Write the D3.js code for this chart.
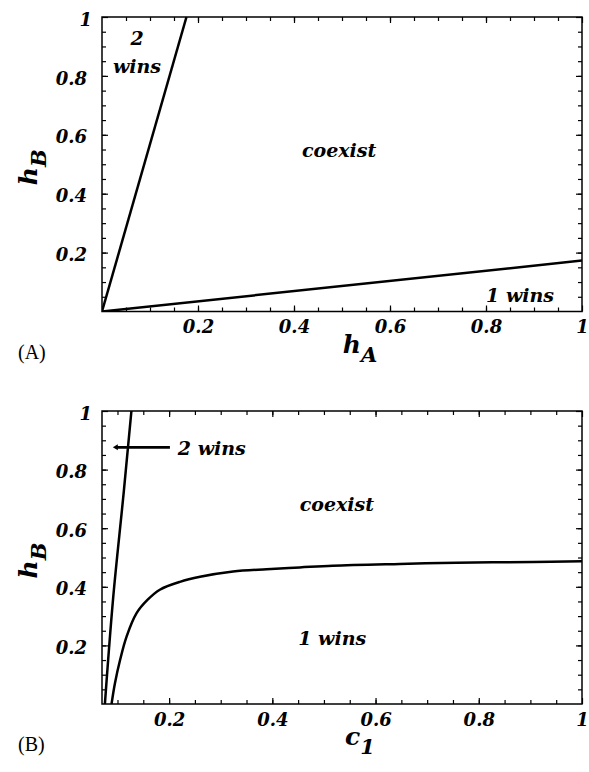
<!DOCTYPE html>
<html lang="en">
<head>
<meta charset="utf-8">
<title>Competition regions</title>
<style>
  body { margin: 0; background: #fff; }
  .frame { fill: none; stroke: #000; stroke-width: 1.5px; }
  .tick line { stroke: #000; stroke-width: 1.2px; }
  .domain { display: none; }
  .tick text, .lab { font-family: 'DejaVu Serif', serif; font-weight: bold; font-style: italic; fill: #000; }
  .curve { fill: none; stroke: #000; stroke-width: 2.5px; }
  .panel-tag { font-family: 'Liberation Serif', 'Times New Roman', serif; font-size: 20px; fill: #000; }
</style>
</head>
<body>
<script src="https://d3js.org/d3.v7.min.js"></script>
<script>
  // ---- data ----
  // panel A : boundaries in the (hA, hB) plane
  const aTwoWins = [[0, 0], [0.176, 1]];
  const aOneWins = [[0, 0], [1, 0.173]];
  // panel B : boundaries in the (c1, hB) plane
  const bTwoWins = [[0.0756, 0], [0.0915, 0.36], [0.1125, 0.73], [0.127, 1]];
  const bOneWins = [[0.0885, 0], [0.095, 0.07], [0.105, 0.15], [0.1176, 0.23], [0.137, 0.31],
    [0.158, 0.355], [0.182, 0.39], [0.221, 0.417], [0.26, 0.434], [0.324, 0.452], [0.389, 0.46],
    [0.453, 0.466], [0.517, 0.472], [0.647, 0.478], [0.757, 0.482], [0.905, 0.485], [1, 0.487]];

  const xTicksA = [0.2, 0.4, 0.6, 0.8, 1];
  const xTicksB = [0.2, 0.4, 0.6, 0.8, 1];
  const yTicks = [0.2, 0.4, 0.6, 0.8, 1];
  const tickFmt = d => d === 1 ? "1" : d3.format(".1f")(d);

  // region labels: [text, x, y] in data units
  const aLabels = [["2", 0.073, 0.905], ["wins", 0.073, 0.81], ["coexist", 0.494, 0.525], ["1 wins", 0.871, 0.032]];
  const bLabels = [["coexist", 0.525, 0.659], ["1 wins", 0.516, 0.2]];

  const W = 589, H = 772;
  const svg = d3.select("body").append("svg").attr("width", W).attr("height", H);

  const left = 102, right = 582;

  function drawPanel(o) {
    const x = d3.scaleLinear().domain(o.xDomain).range([left, right]);
    const y = d3.scaleLinear().domain([0, 1]).range([o.bottom, o.top]);
    const g = svg.append("g");

    const minorX = d3.range(0.05, 1.0001, 0.05).filter(v => v > o.xDomain[0] + 1e-6 && v < 0.999);
    const minorY = d3.range(0.05, 0.999, 0.05);

    // inward minor ticks on all four sides
    const addTicks = (axis, tr) => g.append("g").attr("transform", tr).call(axis);
    addTicks(d3.axisBottom(x).tickValues(minorX).tickSize(-4).tickFormat(""), `translate(0,${o.bottom})`);
    addTicks(d3.axisTop(x).tickValues(minorX).tickSize(-4).tickFormat(""), `translate(0,${o.top})`);
    addTicks(d3.axisLeft(y).tickValues(minorY).tickSize(-4).tickFormat(""), `translate(${left},0)`);
    addTicks(d3.axisRight(y).tickValues(minorY).tickSize(-4).tickFormat(""), `translate(${right},0)`);

    // major ticks with labels
    const xa = addTicks(d3.axisBottom(x).tickValues(o.xTicks).tickSize(-6).tickPadding(9).tickFormat(tickFmt),
      `translate(0,${o.bottom})`);
    xa.selectAll("text").style("font-size", "18px");
    const ya = addTicks(d3.axisLeft(y).tickValues(yTicks).tickSize(-6).tickPadding(15).tickFormat(tickFmt),
      `translate(${left},0)`);
    ya.selectAll("text").style("font-size", "18px").attr("dy", "0.45em")
      .attr("dx", d => d === 1 ? 5 : 0);
    addTicks(d3.axisTop(x).tickValues(o.xTicks).tickSize(-6).tickFormat(""), `translate(0,${o.top})`);
    addTicks(d3.axisRight(y).tickValues(yTicks).tickSize(-6).tickFormat(""), `translate(${right},0)`);

    g.append("rect").attr("class", "frame")
      .attr("x", left).attr("y", o.top).attr("width", right - left).attr("height", o.bottom - o.top);

    // boundary curves, clipped to the frame
    const clipId = "clip" + o.tag.replace(/\W/g, "");
    svg.append("clipPath").attr("id", clipId).append("rect")
      .attr("x", left).attr("y", o.top).attr("width", right - left).attr("height", o.bottom - o.top);
    const line = d3.line().x(d => x(d[0])).y(d => y(d[1]));
    o.curves.forEach(c => {
      g.append("path").attr("class", "curve").attr("clip-path", `url(#${clipId})`)
        .attr("d", line.curve(c.curve)(c.pts));
    });

    // region labels
    g.selectAll("text.region").data(o.labels).join("text").attr("class", "lab region")
      .attr("x", d => x(d[1])).attr("y", d => y(d[2]))
      .attr("text-anchor", "middle").style("font-size", "19px").text(d => d[0]);

    // y axis title h_B
    const yt = g.append("text").attr("class", "lab")
      .attr("transform", `translate(37,${(o.top + o.bottom) / 2 + 3}) rotate(-90)`)
      .attr("text-anchor", "middle").style("font-size", "25px");
    yt.append("tspan").text("h");
    yt.append("tspan").attr("dy", 9).style("font-size", "21px").text("B");

    // x axis title
    const xt = g.append("text").attr("class", "lab")
      .attr("x", 360).attr("y", o.bottom + 41)
      .attr("text-anchor", "middle").style("font-size", "25px");
    xt.append("tspan").text(o.xName);
    xt.append("tspan").attr("dy", 9).style("font-size", "21px").text(o.xSub);

    svg.append("text").attr("class", "panel-tag")
      .attr("x", 18).attr("y", o.bottom + 47).text(o.tag);

    return { x, y, g };
  }

  drawPanel({
    tag: "(A)", top: 17, bottom: 311.5, xDomain: [0, 1], xTicks: xTicksA,
    xName: "h", xSub: "A", labels: aLabels,
    curves: [{ pts: aTwoWins, curve: d3.curveLinear }, { pts: aOneWins, curve: d3.curveLinear }]
  });

  const pb = drawPanel({
    tag: "(B)", top: 411, bottom: 704, xDomain: [0.07, 1], xTicks: xTicksB,
    xName: "c", xSub: "1", labels: bLabels,
    curves: [{ pts: bTwoWins, curve: d3.curveMonotoneY }, { pts: bOneWins, curve: d3.curveCatmullRom.alpha(0.5) }]
  });

  // "2 wins" pointer in panel B
  const arrowFrom = [0.2016, 0.876], arrowTo = [0.091, 0.876];
  pb.g.append("line")
    .attr("x1", pb.x(arrowFrom[0])).attr("y1", pb.y(arrowFrom[1]))
    .attr("x2", pb.x(arrowTo[0]) + 3).attr("y2", pb.y(arrowTo[1]))
    .attr("stroke", "#000").attr("stroke-width", 2.6);
  pb.g.append("path")
    .attr("transform", `translate(${pb.x(arrowTo[0])},${pb.y(arrowTo[1])})`)
    .attr("d", "M0,0L5,-3L5,3Z").attr("fill", "#000");
  pb.g.append("text").attr("class", "lab")
    .attr("x", pb.x(0.217)).attr("y", pb.y(0.85))
    .style("font-size", "19px").text("2 wins");
</script>
</body>
</html>
